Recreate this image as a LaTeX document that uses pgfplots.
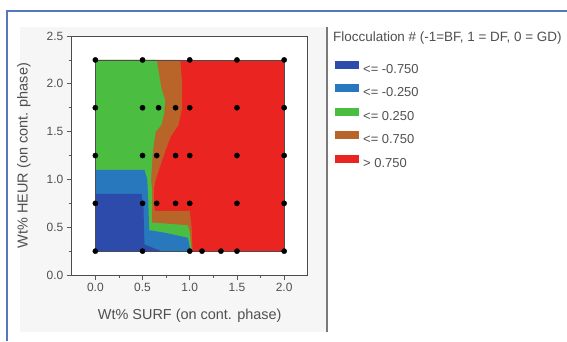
\documentclass[border=0pt]{standalone}
\usepackage{pgfplots}
\pgfplotsset{compat=1.18}
\usepackage{fontspec}
\setmainfont{Liberation Sans}
\definecolor{dkblue}{HTML}{2D4BAA}
\definecolor{mdblue}{HTML}{2878BE}
\definecolor{cgreen}{HTML}{4BBE41}
\definecolor{cbrown}{HTML}{B96428}
\definecolor{cred}{HTML}{EA2420}
\definecolor{frameblue}{HTML}{5577BB}
\definecolor{panelbg}{HTML}{F5F6F5}
\definecolor{sepgray}{HTML}{7A7A7A}
\definecolor{txtgray}{HTML}{505050}
\begin{document}
\begin{tikzpicture}[x=1bp,y=1bp]
\useasboundingbox (0,0) rectangle (567,341);
\fill[white] (0,0) rectangle (567,341);
\fill[panelbg] (20,9) rectangle (327,314);
\draw[frameblue, line width=1.2bp] (7,0) -- (7,330) -- (567,330);
\draw[sepgray, line width=1.5bp] (327,9) -- (327,314);
\begin{axis}[
  at={(76,69)}, anchor=south west,
  width=236bp, height=239bp, scale only axis,
  xmin=-0.25, xmax=2.25, ymin=0, ymax=2.5,
  xtick={0,0.5,1,1.5,2}, ytick={0,0.5,1,1.5,2,2.5},
  minor x tick num=1, minor y tick num=1,
  xtick pos=left, ytick pos=left,
  tick align=outside,
  major tick length=5bp, minor tick length=3bp,
  tick style={color=gray!70!black, line width=0.8bp},
  axis line style={gray!60!black, line width=1bp},
  axis background/.style={fill=white},
  /pgf/number format/assume math mode=true,
  xticklabel style={/pgf/number format/.cd, fixed, fixed zerofill, precision=1},
  yticklabel style={/pgf/number format/.cd, fixed, fixed zerofill, precision=1},
  ticklabel style={font=\fontsize{12}{13}\selectfont, text=txtgray},
  xlabel={Wt\% SURF (on cont. phase)},
  ylabel={Wt\% HEUR (on cont. phase)},
  label style={font=\fontsize{14.5}{16}\selectfont, text=txtgray},
  xlabel style={at={(axis description cs:0.5,-0.172)}, anchor=center},
  ylabel style={at={(axis description cs:-0.203,0.5)}, anchor=center},
]
% > 0.75
\addplot[fill=cred, draw=none] coordinates {(0,0.25) (2,0.25) (2,2.25) (0,2.25)} --cycle;
% <= 0.75
\addplot[fill=cbrown, draw=none] coordinates {(0,2.25) (0.90,2.25) (0.92,2.0) (0.92,1.75) (0.88,1.57) (0.80,1.45) (0.75,1.32) (0.69,1.15) (0.64,1.0) (0.62,0.9) (0.62,0.75) (0.63,0.67) (1.0,0.67) (1.02,0.5) (1.03,0.25) (0,0.25)} --cycle;
% <= 0.25
\addplot[fill=cgreen, draw=none] coordinates {(0,2.25) (0.65,2.25) (0.70,1.95) (0.74,1.83) (0.73,1.70) (0.70,1.57) (0.64,1.50) (0.61,1.30) (0.60,1.15) (0.59,1.0) (0.60,0.9) (0.60,0.55) (0.98,0.52) (1.0,0.45) (1.02,0.25) (0,0.25)} --cycle;
% <= -0.25
\addplot[fill=mdblue, draw=none] coordinates {(0,1.1) (0.52,1.1) (0.55,1.0) (0.56,0.8) (0.57,0.47) (0.75,0.44) (0.98,0.39) (1.01,0.25) (0,0.25)} --cycle;
% <= -0.75
\addplot[fill=dkblue, draw=none] coordinates {(0,0.85) (0.49,0.85) (0.51,0.7) (0.52,0.32) (0.70,0.25) (0,0.25)} --cycle;
% data region border
\addplot[draw=black!70, line width=0.6bp] coordinates {(0,0.25) (2,0.25) (2,2.25) (0,2.25)} --cycle;
% design points
\addplot[only marks, mark=*, mark size=2.6bp, mark options={fill=black, draw=black}] coordinates {
(0,2.25) (0.5,2.25) (1.0,2.25) (1.5,2.25) (2.0,2.25)
(0,1.75) (0.5,1.75) (0.67,1.75) (0.85,1.75) (1.0,1.75) (1.5,1.75) (2.0,1.75)
(0,1.25) (0.5,1.25) (0.65,1.25) (0.85,1.25) (1.0,1.25) (1.5,1.25) (2.0,1.25)
(0,0.75) (0.5,0.75) (0.65,0.75) (0.85,0.75) (1.0,0.75) (1.5,0.75) (2.0,0.75)
(0,0.25) (0.5,0.25) (1.0,0.25) (1.13,0.25) (1.33,0.25) (1.5,0.25) (2.0,0.25)};
\end{axis}
% legend
\node[anchor=west, text=txtgray, font=\fontsize{13.5}{15}\selectfont, inner sep=0pt] at (333,303) {Flocculation \# (-1=BF, 1 = DF, 0 = GD)};
\foreach \c/\yc/\t in {dkblue/276/{<= -0.750}, mdblue/253/{<= -0.250}, cgreen/229/{<= 0.250}, cbrown/206/{<= 0.750}, cred/182/{> 0.750}}{
  \fill[\c] (335,\yc-4) rectangle (359,\yc+4);
  \node[anchor=west, text=txtgray, font=\fontsize{13}{15}\selectfont, inner sep=0pt] at (363,\yc-4) {\t};
}
\end{tikzpicture}
\end{document}
